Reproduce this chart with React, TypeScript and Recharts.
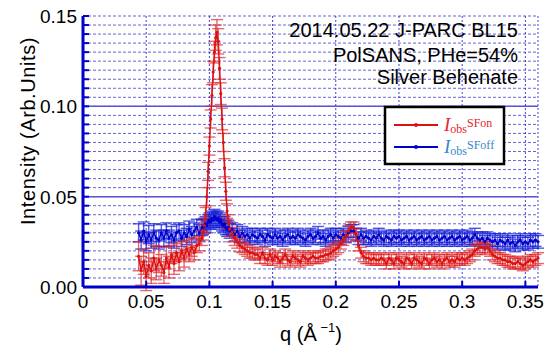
import { LineChart, Line, XAxis, YAxis, CartesianGrid, ErrorBar, ReferenceLine } from 'recharts';

// q values (1/Å)
const qValues = [
  0.044, 0.046, 0.048, 0.050, 0.052, 0.054, 0.056, 0.058, 0.060, 0.062,
  0.064, 0.066, 0.068, 0.070, 0.072, 0.074, 0.076, 0.078, 0.080, 0.082,
  0.084, 0.086, 0.088, 0.090, 0.092, 0.094,
  0.095, 0.096, 0.097, 0.098, 0.099, 0.100, 0.101, 0.102, 0.103, 0.104,
  0.105, 0.106, 0.107, 0.108, 0.109, 0.110, 0.111, 0.112, 0.113, 0.114,
  0.115, 0.116,
  0.118, 0.120, 0.122, 0.124, 0.126, 0.128, 0.130, 0.132, 0.134, 0.136,
  0.138, 0.140, 0.142, 0.144, 0.146, 0.148, 0.150, 0.152, 0.154, 0.156,
  0.158, 0.160, 0.162, 0.164, 0.166, 0.168, 0.170, 0.172, 0.174, 0.176,
  0.178, 0.180, 0.182, 0.184, 0.186, 0.188, 0.190, 0.192, 0.194, 0.196,
  0.198, 0.200, 0.202, 0.204, 0.206, 0.208, 0.210, 0.212, 0.214, 0.216,
  0.218, 0.220, 0.222, 0.224, 0.226, 0.228, 0.230, 0.232, 0.234, 0.236,
  0.238, 0.240, 0.242, 0.244, 0.246, 0.248, 0.250, 0.252, 0.254, 0.256,
  0.258, 0.260, 0.262, 0.264, 0.266, 0.268, 0.270, 0.272, 0.274, 0.276,
  0.278, 0.280, 0.282, 0.284, 0.286, 0.288, 0.290, 0.292, 0.294, 0.296,
  0.298, 0.300, 0.302, 0.304, 0.306, 0.308, 0.310, 0.312, 0.314, 0.316,
  0.318, 0.320, 0.322, 0.324, 0.326, 0.328, 0.330, 0.332, 0.334, 0.336,
  0.338, 0.340, 0.342, 0.344, 0.346, 0.348, 0.350, 0.352, 0.354, 0.356,
  0.358, 0.360,
];

// I_obs SF on (red)
const sfOn = [
  0.017, 0.009, 0.014, 0.006, 0.012, 0.009, 0.016, 0.010, 0.015, 0.012,
  0.008, 0.016, 0.011, 0.018, 0.013, 0.019, 0.014, 0.020, 0.016, 0.021,
  0.018, 0.022, 0.019, 0.023, 0.024, 0.027,
  0.030, 0.034, 0.040, 0.050, 0.064, 0.078, 0.093, 0.106, 0.119, 0.130,
  0.138, 0.141, 0.136, 0.121, 0.107, 0.093, 0.080, 0.066, 0.053, 0.042,
  0.036, 0.032,
  0.029, 0.027, 0.025, 0.023, 0.022, 0.021, 0.020, 0.019, 0.019, 0.018,
  0.018, 0.016, 0.019, 0.016, 0.015, 0.018, 0.015, 0.017, 0.016, 0.014,
  0.016, 0.018, 0.015, 0.014, 0.017, 0.016, 0.015, 0.014, 0.017, 0.016,
  0.015, 0.016, 0.017, 0.016, 0.016, 0.017, 0.017, 0.018, 0.018, 0.019,
  0.020, 0.021, 0.022, 0.024, 0.026, 0.028, 0.031, 0.033, 0.033, 0.029,
  0.023, 0.019, 0.017, 0.016, 0.016, 0.015, 0.016, 0.015, 0.015, 0.016,
  0.015, 0.013, 0.016, 0.015, 0.013, 0.016, 0.015, 0.014, 0.013, 0.016,
  0.015, 0.013, 0.016, 0.015, 0.014, 0.013, 0.016, 0.015, 0.013, 0.015,
  0.016, 0.014, 0.015, 0.013, 0.015, 0.016, 0.014, 0.015, 0.014, 0.016,
  0.015, 0.016, 0.015, 0.016, 0.017, 0.018, 0.020, 0.021, 0.022, 0.022,
  0.021, 0.022, 0.020, 0.018, 0.017, 0.016, 0.016, 0.015, 0.015, 0.014,
  0.014, 0.013, 0.013, 0.014, 0.013, 0.012, 0.013, 0.014, 0.015, 0.014,
  0.015, 0.016,
];

const sfOnErr = [
  0.008, 0.008, 0.007, 0.008, 0.007, 0.007, 0.007, 0.006, 0.007, 0.006,
  0.006, 0.006, 0.006, 0.005, 0.006, 0.005, 0.005, 0.005, 0.005, 0.005,
  0.004, 0.005, 0.004, 0.004, 0.004, 0.004,
  0.004, 0.004, 0.004, 0.005, 0.005, 0.005, 0.005, 0.006, 0.006, 0.006,
  0.007, 0.007, 0.007, 0.006, 0.006, 0.006, 0.005, 0.005, 0.005, 0.004,
  0.004, 0.004,
  0.004, 0.004, 0.0035, 0.0035, 0.003, 0.003, 0.003, 0.003, 0.003, 0.003,
  0.003, 0.003, 0.003, 0.003, 0.003, 0.003, 0.003, 0.003, 0.003, 0.003,
  0.003, 0.003, 0.003, 0.003, 0.003, 0.003, 0.003, 0.003, 0.003, 0.003,
  0.003, 0.003, 0.003, 0.003, 0.003, 0.003, 0.003, 0.003, 0.003, 0.003,
  0.003, 0.003, 0.003, 0.003, 0.003, 0.003, 0.003, 0.003, 0.003, 0.003,
  0.003, 0.003, 0.003, 0.003, 0.003, 0.003, 0.003, 0.003, 0.003, 0.003,
  0.003, 0.003, 0.003, 0.003, 0.003, 0.003, 0.003, 0.003, 0.003, 0.003,
  0.003, 0.003, 0.003, 0.003, 0.003, 0.003, 0.003, 0.003, 0.003, 0.003,
  0.003, 0.003, 0.003, 0.003, 0.003, 0.003, 0.003, 0.003, 0.003, 0.003,
  0.003, 0.003, 0.003, 0.003, 0.003, 0.003, 0.003, 0.003, 0.003, 0.003,
  0.003, 0.003, 0.003, 0.003, 0.003, 0.003, 0.003, 0.003, 0.003, 0.003,
  0.003, 0.003, 0.003, 0.003, 0.003, 0.003, 0.003, 0.003, 0.003, 0.003,
  0.003, 0.003,
];

// I_obs SF off (blue)
const sfOff = [
  0.030, 0.026, 0.031, 0.025, 0.029, 0.026, 0.030, 0.027, 0.026, 0.030,
  0.027, 0.031, 0.027, 0.029, 0.026, 0.030, 0.031, 0.027, 0.030, 0.028,
  0.032, 0.029, 0.031, 0.033, 0.030, 0.033,
  0.033, 0.034, 0.035, 0.034, 0.036, 0.037, 0.036, 0.038, 0.037, 0.039,
  0.038, 0.037, 0.038, 0.036, 0.037, 0.035, 0.034, 0.035, 0.033, 0.032,
  0.033, 0.031,
  0.032, 0.029, 0.031, 0.028, 0.030, 0.028, 0.029, 0.027, 0.029, 0.028,
  0.027, 0.029, 0.028, 0.026, 0.029, 0.028, 0.027, 0.029, 0.027, 0.028,
  0.026, 0.028, 0.029, 0.027, 0.028, 0.027, 0.029, 0.028, 0.027, 0.026,
  0.028, 0.029, 0.027, 0.028, 0.030, 0.027, 0.028, 0.026, 0.028, 0.029,
  0.027, 0.029, 0.028, 0.027, 0.029, 0.028, 0.030, 0.031, 0.031, 0.029,
  0.027, 0.029, 0.027, 0.028, 0.027, 0.026, 0.028, 0.027, 0.029, 0.027,
  0.026, 0.028, 0.027, 0.026, 0.028, 0.027, 0.028, 0.026, 0.027, 0.028,
  0.026, 0.027, 0.028, 0.026, 0.027, 0.028, 0.026, 0.027, 0.028, 0.026,
  0.027, 0.028, 0.026, 0.027, 0.028, 0.026, 0.027, 0.028, 0.026, 0.027,
  0.028, 0.026, 0.027, 0.028, 0.026, 0.027, 0.029, 0.027, 0.026, 0.027,
  0.025, 0.027, 0.026, 0.025, 0.026, 0.024, 0.026, 0.025, 0.024, 0.026,
  0.024, 0.025, 0.023, 0.025, 0.026, 0.024, 0.025, 0.024, 0.026, 0.025,
  0.026, 0.025,
];

const sfOffErr = [
  0.005, 0.005, 0.005, 0.005, 0.005, 0.0045, 0.005, 0.0045, 0.005, 0.0045,
  0.0045, 0.0045, 0.0045, 0.0045, 0.0045, 0.0045, 0.0045, 0.0045, 0.0045, 0.0045,
  0.0045, 0.0045, 0.0045, 0.0045, 0.0045, 0.0045,
  0.004, 0.004, 0.004, 0.004, 0.004, 0.004, 0.004, 0.004, 0.004, 0.004,
  0.004, 0.004, 0.004, 0.004, 0.004, 0.004, 0.004, 0.004, 0.004, 0.004,
  0.004, 0.004,
  0.0035, 0.0035, 0.0035, 0.0035, 0.0035, 0.0035, 0.0035, 0.0035, 0.0035, 0.0035,
  0.0035, 0.0035, 0.0035, 0.0035, 0.0035, 0.0035, 0.0035, 0.0035, 0.0035, 0.0035,
  0.0035, 0.0035, 0.0035, 0.0035, 0.0035, 0.0035, 0.0035, 0.0035, 0.0035, 0.0035,
  0.0035, 0.0035, 0.0035, 0.0035, 0.0035, 0.0035, 0.0035, 0.0035, 0.0035, 0.0035,
  0.0035, 0.0035, 0.0035, 0.0035, 0.0035, 0.0035, 0.0035, 0.0035, 0.0035, 0.0035,
  0.0035, 0.0035, 0.0035, 0.0035, 0.0035, 0.0035, 0.0035, 0.0035, 0.0035, 0.0035,
  0.0035, 0.0035, 0.0035, 0.0035, 0.0035, 0.0035, 0.0035, 0.0035, 0.0035, 0.0035,
  0.0035, 0.0035, 0.0035, 0.0035, 0.0035, 0.0035, 0.0035, 0.0035, 0.0035, 0.0035,
  0.0035, 0.0035, 0.0035, 0.0035, 0.0035, 0.0035, 0.0035, 0.0035, 0.0035, 0.0035,
  0.0035, 0.0035, 0.0035, 0.0035, 0.0035, 0.0035, 0.0035, 0.0035, 0.0035, 0.0035,
  0.0035, 0.0035, 0.0035, 0.0035, 0.0035, 0.0035, 0.0035, 0.0035, 0.0035, 0.0035,
  0.0035, 0.0035, 0.0035, 0.0035, 0.0035, 0.0035, 0.0035, 0.0035, 0.0035, 0.0035,
  0.0035, 0.0035,
];

const xTicks = [0, 0.05, 0.1, 0.15, 0.2, 0.25, 0.3, 0.35];
const yTicks = Array.from({ length: 31 }, (_, i) => (i * 5) / 1000);
const yMajor = [0.05, 0.1];

const data = qValues.map((q, i) => ({
  q,
  on: sfOn[i],
  onErr: sfOnErr[i],
  off: sfOff[i],
  offErr: sfOffErr[i],
}));

const FRAME = '#0000cc';
const RED = '#dd1111';
const BLUE = '#0000cc';
const SANS = '"Liberation Sans", Arial, sans-serif';
const SERIF = '"Liberation Serif", "Times New Roman", serif';

const isMajorY = (v: number) => Math.round(v * 1000) % 50 === 0;

const LeftTick = (props: any) => {
  const { x, y, payload } = props;
  const v = payload.value as number;
  return (
    <g>
      <line x1={x + 6} x2={x + 12} y1={y} y2={y} stroke={FRAME} strokeWidth={2} />
      {isMajorY(v) && (
        <text x={x} y={y} dy={7} textAnchor="end" fontSize={19} fontFamily={SANS} fill="#000">
          {v.toFixed(2)}
        </text>
      )}
    </g>
  );
};

const RightTick = (props: any) => {
  const { x, y } = props;
  return <line x1={x} x2={x - 6} y1={y} y2={y} stroke={FRAME} strokeWidth={2} />;
};

const BottomTick = (props: any) => {
  const { x, y, payload } = props;
  return (
    <g>
      <line x1={x} x2={x} y1={y} y2={y - 6} stroke={FRAME} strokeWidth={2} />
      <text x={x} y={y} dy={21} textAnchor="middle" fontSize={19} fontFamily={SANS} fill="#000">
        {String(payload.value)}
      </text>
    </g>
  );
};

const TopTick = (props: any) => {
  const { x, y } = props;
  return <line x1={x} x2={x} y1={y} y2={y + 6} stroke={FRAME} strokeWidth={2} />;
};

export default function App() {
  return (
    <div style={{ position: 'absolute', left: 0, top: 0, width: 556, height: 351, background: '#fff' }}>
      <LineChart width={556} height={351} data={data} margin={{ top: 16, right: 18, left: 0, bottom: 0 }}>
        <XAxis
          xAxisId="bottom"
          dataKey="q"
          type="number"
          domain={[0, 0.36]}
          ticks={xTicks}
          height={64}
          tickSize={0}
          tickMargin={0}
          tick={<BottomTick />}
          axisLine={{ stroke: FRAME, strokeWidth: 3 }}
          tickLine={false}
        />
        <XAxis
          xAxisId="top"
          orientation="top"
          dataKey="q"
          type="number"
          domain={[0, 0.36]}
          ticks={xTicks}
          height={0}
          tickSize={0}
          tickMargin={0}
          tick={<TopTick />}
          axisLine={{ stroke: FRAME, strokeWidth: 3 }}
          tickLine={false}
        />
        <YAxis
          yAxisId="left"
          type="number"
          domain={[0, 0.15]}
          ticks={yTicks}
          allowDataOverflow
          width={83}
          tickSize={0}
          tickMargin={6}
          tick={<LeftTick />}
          axisLine={{ stroke: FRAME, strokeWidth: 3 }}
          tickLine={false}
          interval={0}
        />
        <YAxis
          yAxisId="right"
          orientation="right"
          type="number"
          domain={[0, 0.15]}
          ticks={yTicks}
          width={0}
          tickSize={0}
          tickMargin={0}
          tick={<RightTick />}
          axisLine={{ stroke: FRAME, strokeWidth: 3 }}
          tickLine={false}
          interval={0}
        />
        <CartesianGrid
          xAxisId="bottom"
          yAxisId="left"
          vertical={false}
          stroke="#3333cc"
          strokeDasharray="3 2"
          strokeOpacity={0.75}
        />
        <CartesianGrid
          xAxisId="bottom"
          yAxisId="left"
          horizontal={false}
          stroke="#1111cc"
          strokeDasharray="2 2"
          strokeOpacity={0.8}
        />
        {yMajor.map((v) => (
          <ReferenceLine key={v} xAxisId="bottom" yAxisId="left" y={v} stroke="#5555dd" strokeWidth={1.5} />
        ))}
        <Line
          xAxisId="bottom"
          yAxisId="left"
          dataKey="off"
          stroke={BLUE}
          strokeWidth={1.5}
          dot={{ r: 1.6, fill: BLUE, stroke: BLUE, strokeWidth: 0 }}
          isAnimationActive={false}
        >
          <ErrorBar dataKey="offErr" direction="y" width={6} stroke="#1a22d8" strokeOpacity={0.75} strokeWidth={1.4} />
        </Line>
        <Line
          xAxisId="bottom"
          yAxisId="left"
          dataKey="on"
          stroke={RED}
          strokeWidth={1.5}
          dot={{ r: 1.6, fill: RED, stroke: RED, strokeWidth: 0 }}
          isAnimationActive={false}
        >
          <ErrorBar dataKey="onErr" direction="y" width={6} stroke="#e02828" strokeOpacity={0.7} strokeWidth={1.4} />
        </Line>
      </LineChart>
      <svg width={556} height={351} style={{ position: 'absolute', left: 0, top: 0, pointerEvents: 'none' }}>
        <g fontFamily={SANS} fontSize={20} fill="#000" textAnchor="end">
          <text x={518} y={37}>2014.05.22 J-PARC BL15</text>
          <text x={518} y={62}>PolSANS, PHe=54%</text>
          <text x={518} y={84}>Silver Behenate</text>
        </g>
        <text
          x={28}
          y={131}
          transform="rotate(-90 28 131)"
          textAnchor="middle"
          dominantBaseline="central"
          fontFamily={SANS}
          fontSize={20}
          letterSpacing={0.6}
          fill="#000"
        >
          Intensity (Arb.Units)
        </text>
        <text x={311} y={341} textAnchor="middle" fontFamily={SANS} fontSize={20} fill="#000">
          <tspan>q (Å</tspan>
          <tspan dy={-9} fontSize={13}> −1</tspan>
          <tspan dy={9}>)</tspan>
        </text>
        <rect x={385} y={107} width={119} height={57} fill="#fff" stroke="#000" strokeWidth={2.5} />
        <line x1={394} x2={438} y1={125} y2={125} stroke={RED} strokeWidth={2} />
        <circle cx={416} cy={125} r={2} fill={RED} />
        <text x={444} y={131} fontFamily={SERIF} fill="#e8262a">
          <tspan fontSize={19} fontStyle="italic">I</tspan>
          <tspan fontSize={12} dy={2}>obs</tspan>
          <tspan fontSize={12} dy={-6}>SFon</tspan>
        </text>
        <line x1={394} x2={438} y1={147} y2={147} stroke={BLUE} strokeWidth={2} />
        <circle cx={416} cy={147} r={2} fill={BLUE} />
        <text x={444} y={153} fontFamily={SERIF} fill="#3388cc">
          <tspan fontSize={19} fontStyle="italic">I</tspan>
          <tspan fontSize={12} dy={2}>obs</tspan>
          <tspan fontSize={12} dy={-6}>SFoff</tspan>
        </text>
      </svg>
    </div>
  );
}
